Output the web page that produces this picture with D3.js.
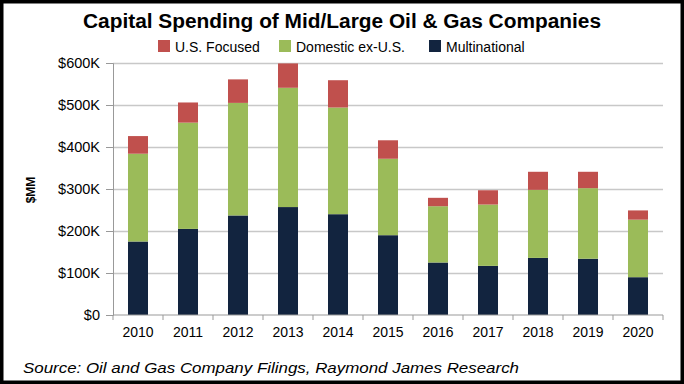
<!DOCTYPE html>
<html>
<head>
<meta charset="utf-8">
<script src="https://cdn.jsdelivr.net/npm/d3@7"></script>
<style>
  html, body { margin: 0; padding: 0; background: #fff; }
  svg { display: block; font-family: "Liberation Sans", Arial, sans-serif; }
</style>
</head>
<body>
<div id="contents"></div>
<script>
var years         = ['2010', '2011', '2012', '2013', '2014', '2015', '2016', '2017', '2018', '2019', '2020'];
var multinational = [175, 205, 237, 257, 240, 190, 125, 117, 136, 134, 90];
var domesticExUS  = [209, 253, 268, 284, 254, 182, 134, 146, 162, 168, 137];
var usFocused     = [42, 48, 56, 58, 65, 44, 20, 34, 43, 39, 22];
var seriesNames   = ['Multinational', 'Domestic ex-U.S.', 'U.S. Focused'];
var yTicks        = [0, 100, 200, 300, 400, 500, 600];

window.onload = function(){
    'use strict';
    var WIDTH   = 684;
    var HEIGHT  = 384;
    var margin  = {top: 63, left: 113, right: 21, bottom: 69};
    var colors  = {'Multinational': '#12243f', 'Domestic ex-U.S.': '#9bbb59', 'U.S. Focused': '#c0504d'};

    var svg = d3.select('#contents').append('svg')
        .attr('width', WIDTH)
        .attr('height', HEIGHT);

    svg.append('rect')
        .attr('x', 1.5).attr('y', 1.5)
        .attr('width', WIDTH - 3).attr('height', HEIGHT - 3)
        .attr('fill', '#fff')
        .attr('stroke', '#000')
        .attr('stroke-width', 4);

    var rows = years.map(function(y, i){
        return {'year': y, 'Multinational': multinational[i],
                'Domestic ex-U.S.': domesticExUS[i], 'U.S. Focused': usFocused[i]};
    });
    var stacked = d3.stack().keys(seriesNames)(rows);

    var x = d3.scaleBand()
        .domain(years)
        .range([margin.left, WIDTH - margin.right])
        .paddingInner(0.6)
        .paddingOuter(0.3);
    var y = d3.scaleLinear()
        .domain([0, 600])
        .range([HEIGHT - margin.bottom, margin.top]);

    // gridlines
    svg.append('g')
        .selectAll('line')
        .data(yTicks.slice(1))
        .enter()
        .append('line')
        .attr('x1', margin.left)
        .attr('x2', WIDTH - margin.right)
        .attr('y1', function(d){ return Math.round(y(d)) + 0.5; })
        .attr('y2', function(d){ return Math.round(y(d)) + 0.5; })
        .attr('stroke', '#c8c8c8')
        .attr('stroke-width', 1.5);

    // bars
    svg.append('g')
        .selectAll('g')
        .data(stacked)
        .enter()
        .append('g')
        .attr('fill', function(d){ return colors[d.key]; })
        .selectAll('rect')
        .data(function(d){ return d; })
        .enter()
        .append('rect')
        .attr('x', function(d){ return x(d.data.year); })
        .attr('width', x.bandwidth())
        .attr('y', function(d){ return y(d[1]); })
        .attr('height', function(d){ return y(d[0]) - y(d[1]); });

    // y axis
    var yAxis = svg.append('g')
        .attr('transform', 'translate(' + margin.left + ',0)')
        .call(d3.axisLeft(y).tickValues(yTicks).tickSize(7).tickPadding(6)
            .tickFormat(function(d){ return d === 0 ? '$0' : '$' + d + 'K'; }));
    yAxis.select('.domain').attr('stroke', '#999');
    yAxis.selectAll('.tick line').attr('stroke', '#999');
    yAxis.selectAll('text').attr('font-size', 14.5).attr('fill', '#000')
        .attr('font-family', '"Liberation Sans", Arial, sans-serif');

    // x axis with ticks between categories
    var xAxisG = svg.append('g')
        .attr('transform', 'translate(0,' + (HEIGHT - margin.bottom) + ')');
    xAxisG.append('line')
        .attr('x1', margin.left).attr('x2', WIDTH - margin.right)
        .attr('y1', 0).attr('y2', 0)
        .attr('stroke', '#999');
    var plotW = WIDTH - margin.left - margin.right;
    xAxisG.selectAll('.sep')
        .data(d3.range(years.length + 1))
        .enter()
        .append('line')
        .attr('x1', function(i){ return margin.left + i * plotW / years.length; })
        .attr('x2', function(i){ return margin.left + i * plotW / years.length; })
        .attr('y1', 0).attr('y2', 5)
        .attr('stroke', '#999');
    xAxisG.selectAll('text')
        .data(years)
        .enter()
        .append('text')
        .attr('x', function(d){ return x(d) + x.bandwidth() / 2; })
        .attr('y', 22)
        .attr('text-anchor', 'middle')
        .attr('font-size', 14)
        .text(function(d){ return d; });

    // y axis title
    svg.append('text')
        .attr('transform', 'translate(35,190) rotate(-90)')
        .attr('text-anchor', 'middle')
        .attr('font-size', 12)
        .attr('font-weight', 'bold')
        .text('$MM');

    // title
    svg.append('text')
        .attr('x', 342).attr('y', 28)
        .attr('text-anchor', 'middle')
        .attr('font-size', 20)
        .attr('font-weight', 'bold')
        .attr('textLength', 518)
        .attr('lengthAdjust', 'spacingAndGlyphs')
        .text('Capital Spending of Mid/Large Oil & Gas Companies');

    // legend
    var legendItems = [
        {'name': 'U.S. Focused', 'x': 158},
        {'name': 'Domestic ex-U.S.', 'x': 279},
        {'name': 'Multinational', 'x': 429}
    ];
    var legend = svg.append('g')
        .selectAll('g')
        .data(legendItems)
        .enter()
        .append('g')
        .attr('transform', function(d){ return 'translate(' + d.x + ',40)'; });
    legend.append('rect')
        .attr('width', 12).attr('height', 12)
        .attr('fill', function(d){ return colors[d.name]; });
    legend.append('text')
        .attr('x', 17).attr('y', 11.5)
        .attr('font-size', 14)
        .text(function(d){ return d.name; });

    // source
    svg.append('text')
        .attr('x', 23).attr('y', 373)
        .attr('font-size', 15)
        .attr('font-style', 'italic')
        .attr('textLength', 496)
        .attr('lengthAdjust', 'spacingAndGlyphs')
        .text('Source: Oil and Gas Company Filings, Raymond James Research');
};
</script>
</body>
</html>
